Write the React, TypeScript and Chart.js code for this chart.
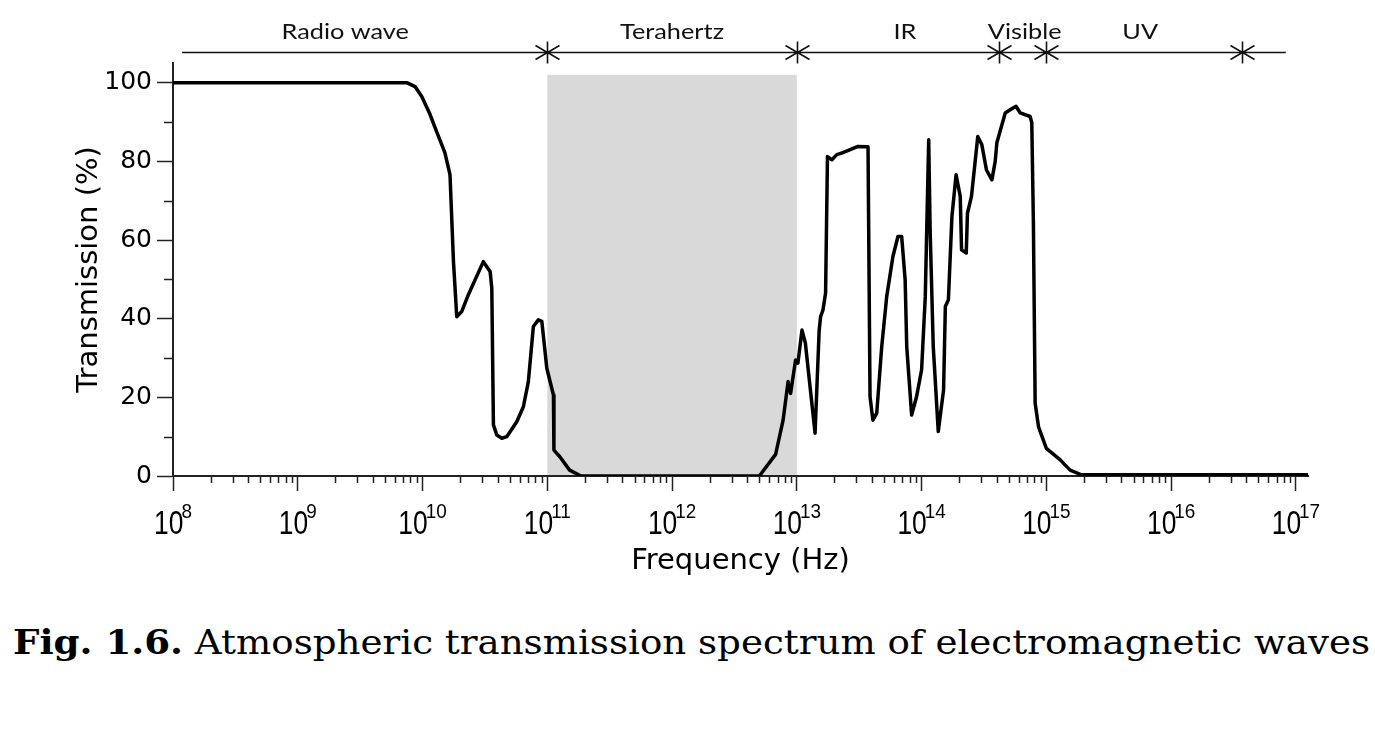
import React, { useEffect, useRef } from 'react';
import { Chart, registerables } from 'chart.js';

Chart.register(...registerables);

// ---------- data ----------
const frequencyHz = [
  1e8, 7.46e9, 8.71e9, 9.86e9, 1.15e10, 1.26e10, 1.51e10, 1.66e10, 1.77e10, 1.88e10,
  2.06e10, 2.33e10, 3.07e10, 3.48e10, 3.59e10, 3.7e10, 3.94e10, 4.32e10, 4.73e10, 5.69e10,
  6.43e10, 7.05e10, 7.73e10, 8.47e10, 9.04e10, 9.91e10, 1.12e11, 1.13e11, 1.26e11, 1.51e11,
  1.86e11, 5.01e12, 6.76e12, 7.76e12, 8.51e12, 8.91e12, 9.77e12, 1.02e13, 1.1e13, 1.17e13,
  1.4e13, 1.51e13, 1.55e13, 1.62e13, 1.7e13, 1.76e13, 1.91e13, 2.09e13, 2.34e13, 3.09e13,
  3.72e13, 3.86e13, 4.07e13, 4.37e13, 4.79e13, 5.25e13, 5.89e13, 6.46e13, 6.92e13, 7.38e13,
  7.6e13, 8.32e13, 9.12e13, 1.0e14, 1.07e14, 1.14e14, 1.17e14, 1.24e14, 1.36e14, 1.5e14,
  1.55e14, 1.64e14, 1.75e14, 1.89e14, 2.04e14, 2.09e14, 2.28e14, 2.33e14, 2.51e14, 2.82e14,
  3.04e14, 3.31e14, 3.66e14, 3.89e14, 4.01e14, 4.68e14, 5.13e14, 5.71e14, 6.17e14, 7.41e14,
  7.64e14, 7.87e14, 8.13e14, 8.65e14, 1.0e15, 1.29e15, 1.55e15, 1.91e15, 1.25e17,
];
const transmissionPct = [
  100, 100, 99, 96.5, 91.9, 88.6, 82.2, 76.6, 54.5, 40.5,
  41.8, 46.1, 54.5, 52, 47.8, 13, 10.4, 9.6, 10, 13.8,
  17.6, 24, 38, 39.7, 39.3, 27.4, 20.6, 6.6, 4.9, 1.5,
  0, 0, 5.5, 14.2, 24, 21, 29.5, 28.7, 37.1, 33.8,
  10.9, 37, 40.5, 42.2, 46.5, 81.2, 80.4, 81.7, 82.2, 83.8,
  83.7, 20.2, 14.2, 16, 32.9, 45.6, 55.8, 60.9, 60.9, 49.9,
  32.9, 15.5, 20.2, 27, 45.6, 85.5, 62.6, 32.9, 11.3, 21.9,
  43.1, 44.8, 66, 76.6, 71.1, 57.5, 56.7, 66.8, 71.1, 86.3,
  84.2, 77.8, 75.3, 80, 84.7, 92.3, 93.1, 94, 92.3, 91.4,
  89.8, 64.3, 18.5, 12.5, 7, 4.1, 1.5, 0.3, 0.3,
];

const xMinHz = 1e8;
const xMaxHz = 1.25e17;
const yMinPct = 0;
const yMaxPct = 105;
const yMajorTicks = [0, 20, 40, 60, 80, 100];
const yMinorTicks = [10, 30, 50, 70, 90];
const xDecadeExponents = [8, 9, 10, 11, 12, 13, 14, 15, 16, 17];

const bandNames = ['Radio wave', 'Terahertz', 'IR', 'Visible', 'UV'];
const bandLabelHz = [2.4e9, 1e12, 7.35e13, 6.7e14, 5.65e15];
const bandEdgesHz = [1e11, 1e13, 4.17e14, 1e15, 3.69e16];
const bandLineStartHz = 1.18e8;
const bandLineEndHz = 8.3e16;

const shadedBandHz = [1e11, 1e13];
const shadedTopPct = 102;

const xTitle = 'Frequency (Hz)';
const yTitle = 'Transmission (%)';
const captionBold = 'Fig. 1.6.';
const captionText = ' Atmospheric transmission spectrum of electromagnetic waves';

// ---------- styling ----------
const AXIS_COLOR = '#222';
const CLEAR = 'rgba(0,0,0,0)';

const isPow10 = (v: number) => {
  const l = Math.log10(v);
  return Math.abs(l - Math.round(l)) < 1e-6;
};

const decorPlugin = {
  id: 'decor',
  beforeDraw(chart: any) {
    const { ctx } = chart;
    const x = chart.scales.x;
    const y = chart.scales.y;
    const x1 = x.getPixelForValue(shadedBandHz[0]);
    const x2 = x.getPixelForValue(shadedBandHz[1]);
    const yt = y.getPixelForValue(shadedTopPct);
    const yb = y.getPixelForValue(0);
    ctx.save();
    ctx.fillStyle = '#d9d9d9';
    ctx.fillRect(x1, yt, x2 - x1, yb - yt);
    ctx.restore();
  },
  afterDraw(chart: any) {
    const { ctx, chartArea } = chart;
    const x = chart.scales.x;
    const y = chart.scales.y;
    ctx.save();
    // minor x ticks
    ctx.strokeStyle = AXIS_COLOR;
    ctx.lineWidth = 1.5;
    ctx.beginPath();
    for (const t of x.ticks) {
      const v = t.value;
      if (v > xMaxHz * 1.0001 || v < xMinHz) continue;
      const e = Math.floor(Math.log10(v) + 1e-9);
      const m = v / Math.pow(10, e);
      const r = Math.round(m);
      if (Math.abs(m - r) < 1e-6 && r >= 2 && r <= 9) {
        const px = Math.round(x.getPixelForValue(v)) + 0.5;
        ctx.moveTo(px, chartArea.bottom);
        ctx.lineTo(px, chartArea.bottom + 7);
      }
    }
    // minor y ticks
    for (const v of yMinorTicks) {
      const py = Math.round(y.getPixelForValue(v)) + 0.5;
      ctx.moveTo(chartArea.left - 9, py);
      ctx.lineTo(chartArea.left, py);
    }
    ctx.stroke();

    // x tick labels: 10 with superscript exponent
    ctx.fillStyle = '#000';
    ctx.textBaseline = 'alphabetic';
    ctx.textAlign = 'left';
    const baseFont = '33px "Liberation Sans", Arial, sans-serif';
    const expFont = '21px "Liberation Sans", Arial, sans-serif';
    const sxBase = 0.8;
    const sxExp = 0.9;
    for (const e of xDecadeExponents) {
      const px = x.getPixelForValue(Math.pow(10, e));
      ctx.font = baseFont;
      const wb = ctx.measureText('10').width * sxBase;
      ctx.font = expFont;
      const we = ctx.measureText(String(e)).width * sxExp;
      const overlap = 2;
      const total = wb + we - overlap;
      const left = px - total / 2;
      ctx.save();
      ctx.translate(left, 534);
      ctx.scale(sxBase, 1);
      ctx.font = baseFont;
      ctx.fillText('10', 0, 0);
      ctx.restore();
      ctx.save();
      ctx.translate(left + wb - overlap, 518);
      ctx.scale(sxExp, 1);
      ctx.font = expFont;
      ctx.fillText(String(e), 0, 0);
      ctx.restore();
    }

    // band annotation bar
    const by = 52.5;
    ctx.strokeStyle = '#111';
    ctx.lineWidth = 1.6;
    ctx.beginPath();
    ctx.moveTo(x.getPixelForValue(bandLineStartHz), by);
    ctx.lineTo(x.getPixelForValue(bandLineEndHz), by);
    for (const edge of bandEdgesHz) {
      const xb = Math.round(x.getPixelForValue(edge)) + 0.5;
      ctx.moveTo(xb, by - 11);
      ctx.lineTo(xb, by + 11);
      ctx.moveTo(xb - 12, by - 7);
      ctx.lineTo(xb, by);
      ctx.lineTo(xb - 12, by + 7);
      ctx.moveTo(xb + 12, by - 7);
      ctx.lineTo(xb, by);
      ctx.lineTo(xb + 12, by + 7);
    }
    ctx.stroke();

    ctx.fillStyle = '#111';
    ctx.textAlign = 'center';
    ctx.font = '22px Lato, "Open Sans", sans-serif';
    bandNames.forEach((name, i) => {
      const cx = x.getPixelForValue(bandLabelHz[i]);
      ctx.save();
      ctx.translate(cx, 39);
      ctx.scale(1.15, 1);
      ctx.fillText(name, 0, 0);
      ctx.restore();
    });
    ctx.restore();
  },
};

export default function App() {
  const canvasRef = useRef<HTMLCanvasElement | null>(null);
  const captionRef = useRef<HTMLDivElement | null>(null);

  useEffect(() => {
    const canvas = canvasRef.current;
    if (!canvas) return;
    const points = frequencyHz.map((f, i) => ({ x: f, y: transmissionPct[i] }));
    const chart = new Chart(canvas, {
      type: 'line',
      data: {
        datasets: [
          {
            data: points,
            borderColor: '#000',
            borderWidth: 3.5,
            pointRadius: 0,
            fill: false,
            tension: 0,
            borderJoinStyle: 'round',
            borderCapStyle: 'round',
          } as any,
        ],
      },
      options: {
        responsive: false,
        maintainAspectRatio: false,
        devicePixelRatio: 1,
        animation: false,
        events: [],
        layout: { padding: { top: 63, right: 67, bottom: 0, left: 0 } },
        plugins: { legend: { display: false }, tooltip: { enabled: false } },
        scales: {
          x: {
            type: 'logarithmic',
            min: xMinHz,
            max: xMaxHz,
            afterFit: (s: any) => {
              s.height = 124;
            },
            border: { display: true, color: AXIS_COLOR, width: 2 },
            grid: {
              display: true,
              drawOnChartArea: false,
              drawTicks: true,
              tickLength: 15,
              tickWidth: 1.5,
              tickColor: (c: any) => (c.tick && isPow10(c.tick.value) && c.tick.value <= xMaxHz ? AXIS_COLOR : CLEAR),
            },
            ticks: { display: false, autoSkip: false },
            title: {
              display: true,
              text: xTitle,
              color: '#000',
              font: { family: '"DejaVu Sans", sans-serif', size: 29 },
              padding: { top: 0, bottom: 21 },
            },
          },
          y: {
            type: 'linear',
            min: yMinPct,
            max: yMaxPct,
            afterFit: (s: any) => {
              s.width = 173;
            },
            border: { display: true, color: AXIS_COLOR, width: 2 },
            grid: {
              display: true,
              drawOnChartArea: false,
              drawTicks: true,
              tickLength: 16,
              tickWidth: 1.5,
              tickColor: (c: any) => (c.tick && yMajorTicks.includes(c.tick.value) ? AXIS_COLOR : CLEAR),
            },
            ticks: {
              stepSize: 10,
              includeBounds: false,
              autoSkip: false,
              padding: 5,
              color: '#000',
              font: { family: '"DejaVu Sans", sans-serif', size: 25 },
              callback: (v: any) => (yMajorTicks.includes(Number(v)) ? String(v) : ''),
            },
            title: {
              display: true,
              text: yTitle,
              color: '#000',
              font: { family: '"DejaVu Sans", sans-serif', size: 29 },
              padding: { top: 72, bottom: 0 },
            },
          },
        },
      } as any,
      plugins: [decorPlugin],
    });

    const cap = captionRef.current;
    if (cap) {
      cap.style.transform = 'none';
      const w = cap.getBoundingClientRect().width;
      if (w > 0) cap.style.transform = `scaleX(${1357 / w})`;
    }
    return () => chart.destroy();
  }, []);

  return (
    <div style={{ position: 'absolute', left: 0, top: 0, width: 1375, height: 755, background: '#fff' }}>
      <canvas ref={canvasRef} width={1375} height={600} style={{ display: 'block', width: 1375, height: 600 }} />
      <div
        ref={captionRef}
        style={{
          position: 'absolute',
          left: 13,
          top: 625,
          fontFamily: '"DejaVu Serif", serif',
          fontSize: 34,
          lineHeight: 1,
          whiteSpace: 'nowrap',
          display: 'inline-block',
          transformOrigin: 'left top',
          color: '#000',
        }}
      >
        <b>{captionBold}</b>
        {captionText}
      </div>
    </div>
  );
}
